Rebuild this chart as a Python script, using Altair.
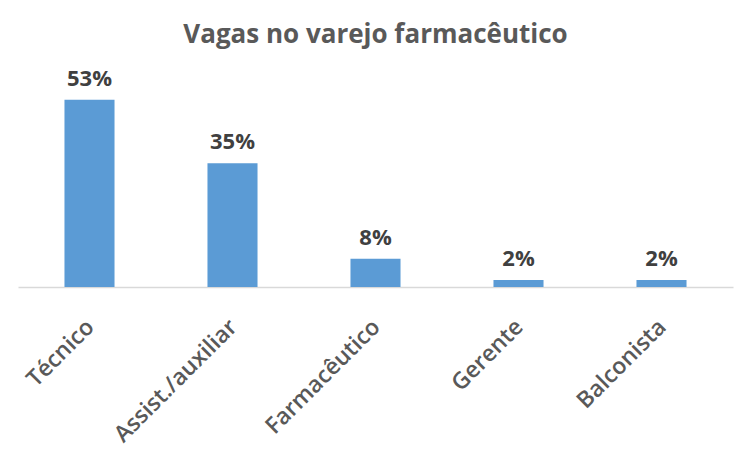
import altair as alt
import pandas as pd

categories = ["Técnico", "Assist./auxiliar", "Farmacêutico", "Gerente", "Balconista"]
values = [53, 35, 8, 2, 2]
labels = ["53%", "35%", "8%", "2%", "2%"]

df = pd.DataFrame({"cat": categories, "val": values, "lab": labels})

x = alt.X("cat:N", sort=categories, title=None,
          scale=alt.Scale(paddingInner=0.65, paddingOuter=0.325),
          axis=alt.Axis(labelAngle=-45, labelAlign="right", labelBaseline="middle",
                        labelFontSize=23, labelFont="Open Sans", labelFontWeight=600,
                        labelColor="#595959", labelPadding=36, labelOffset=1, ticks=False,
                        domainColor="#D9D9D9", domainWidth=1.5, labelOverlap=False))
y = alt.Y("val:Q", scale=alt.Scale(domain=[0, 60]), axis=None)

bars = alt.Chart(df).mark_bar(color="#5B9BD5").encode(x=x, y=y)
text = alt.Chart(df).mark_text(dy=-9, baseline="bottom", font="Open Sans", fontSize=22,
                               fontWeight="bold", color="#404040").encode(
    x=alt.X("cat:N", sort=categories), y="val:Q", text="lab:N")

chart = (bars + text).properties(
    width=715, height=212,
    background="white",
    autosize=alt.AutoSizeParams(type="none"),
    padding={"left": 10, "top": 67, "right": 9, "bottom": 176},
    title=alt.TitleParams("Vagas no varejo farmacêutico", font="Open Sans", fontSize=26,
                          fontWeight="bold", color="#595959", anchor="middle", offset=20),
).configure_view(stroke=None)

chart.save("out.html", embed_options={"renderer": "svg", "actions": False})
